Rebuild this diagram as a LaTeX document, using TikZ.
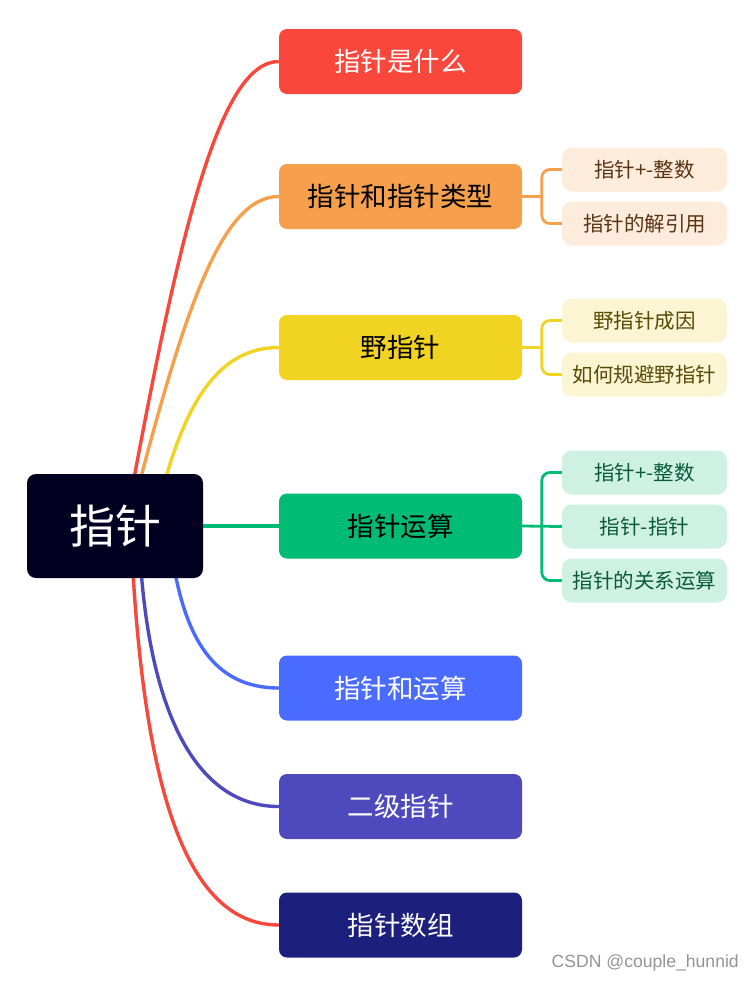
\documentclass[tikz,border=0pt]{standalone}
\usepackage{fontspec}
\setmainfont{Noto Sans CJK SC}
\newfontfamily\wmfont{Liberation Sans}
\usetikzlibrary{backgrounds,calc}
\definecolor{rootc}{HTML}{010021}
\definecolor{cred}{HTML}{FA473C}
\definecolor{corange}{HTML}{F6A04D}
\definecolor{cyellow}{HTML}{F1D321}
\definecolor{cgreen}{HTML}{00BB76}
\definecolor{cblue}{HTML}{4A6BFF}
\definecolor{cpurple}{HTML}{4E4ABE}
\definecolor{cnavy}{HTML}{1C1F7B}
\definecolor{lorange}{HTML}{FDEBDC}
\definecolor{lyellow}{HTML}{FCF5D3}
\definecolor{lgreen}{HTML}{CEF1E4}
\definecolor{torange}{HTML}{5A3414}
\definecolor{tyellow}{HTML}{574A05}
\definecolor{tgreen}{HTML}{0A5A3C}
\tikzset{
  rootbox/.style={fill=rootc, text=white, rounded corners=9pt, minimum width=176pt, minimum height=104pt, inner sep=0pt, font=\fontsize{46}{52}\selectfont},
  branchbox/.style={rounded corners=8pt, minimum width=243pt, minimum height=65pt, inner sep=0pt, font=\fontsize{26.5}{30}\selectfont},
  subbox/.style={rounded corners=10pt, minimum width=165pt, minimum height=44pt, inner sep=0pt, font=\fontsize{20.5}{24}\selectfont},
  mainline/.style={line width=3.4pt},
  subline/.style={line width=2.8pt},
}
\begin{document}
\begin{tikzpicture}[x=1pt,y=-1pt]
\useasboundingbox (0,0) rectangle (754,983);
\begin{scope}[on background layer]
\fill[white] (0,0) rectangle (754,983);
\end{scope}
\node[rootbox] (root) at (115,526) {指针};
\node[branchbox, fill=cred, text=white] (b1) at (400.5,61.5) {指针是什么};
\node[branchbox, fill=corange, text=black] (b2) at (400.5,196.5) {指针和指针类型};
\node[branchbox, fill=cyellow, text=black] (b3) at (400.5,347.5) {野指针};
\node[branchbox, fill=cgreen, text=black] (b4) at (400.5,526) {指针运算};
\node[branchbox, fill=cblue, text=white] (b5) at (400.5,688) {指针和运算};
\node[branchbox, fill=cpurple, text=white] (b6) at (400.5,806.5) {二级指针};
\node[branchbox, fill=cnavy, text=white] (b7) at (400.5,925) {指针数组};
\node[subbox, fill=lorange, text=torange] (s21) at (644.5,169.5) {指针+-整数};
\node[subbox, fill=lorange, text=torange] (s22) at (644.5,223.5) {指针的解引用};
\node[subbox, fill=lyellow, text=tyellow] (s31) at (644.5,320.5) {野指针成因};
\node[subbox, fill=lyellow, text=tyellow] (s32) at (644.5,374.5) {如何规避野指针};
\node[subbox, fill=lgreen, text=tgreen] (s41) at (644.5,472.5) {指针+-整数};
\node[subbox, fill=lgreen, text=tgreen] (s42) at (644.5,526.5) {指针-指针};
\node[subbox, fill=lgreen, text=tgreen] (s43) at (644.5,580.5) {指针的关系运算};
\node[font=\wmfont\fontsize{17.6}{20}\selectfont, text=black!42, anchor=east, inner sep=0pt] (wm) at (739,963) {CSDN @couple\_hunnid};
\begin{scope}[on background layer]
\draw[mainline, cred] ($(root.north)+(15,26)$) .. controls +(50,-270) and ($(b1.west)+(-59,0)$) .. (b1.west);
\draw[mainline, corange] ($(root.north)+(20,26)$) .. controls +(49,-187) and ($(b2.west)+(-58,0)$) .. (b2.west);
\draw[mainline, cyellow] ($(root.north)+(45,26)$) .. controls +(25,-100) and ($(b3.west)+(-59,0)$) .. (b3.west);
\draw[mainline, cgreen] (root.east) -- (b4.west);
\draw[mainline, cblue] ($(root.south)+(57,-23)$) .. controls +(13,85) and ($(b5.west)+(-64,0)$) .. (b5.west);
\draw[mainline, cpurple] ($(root.south)+(25,-23)$) .. controls +(10,165) and ($(b6.west)+(-79,0)$) .. (b6.west);
\draw[mainline, cred] ($(root.south)+(17,-23)$) .. controls +(13,245) and ($(b7.west)+(-89,0)$) .. (b7.west);
\end{scope}
\draw[subline, corange] (b2.east) -- ++(20,0);
\draw[subline, corange, rounded corners=8pt] (s21.west) -- ++(-20,0) |- (s22.west);
\draw[subline, cyellow] (b3.east) -- ++(20,0);
\draw[subline, cyellow, rounded corners=8pt] (s31.west) -- ++(-20,0) |- (s32.west);
\draw[subline, cgreen] (b4.east) -- (s42.west);
\draw[subline, cgreen, rounded corners=8pt] (s41.west) -- ++(-20,0) |- (s43.west);
\end{tikzpicture}
\end{document}
